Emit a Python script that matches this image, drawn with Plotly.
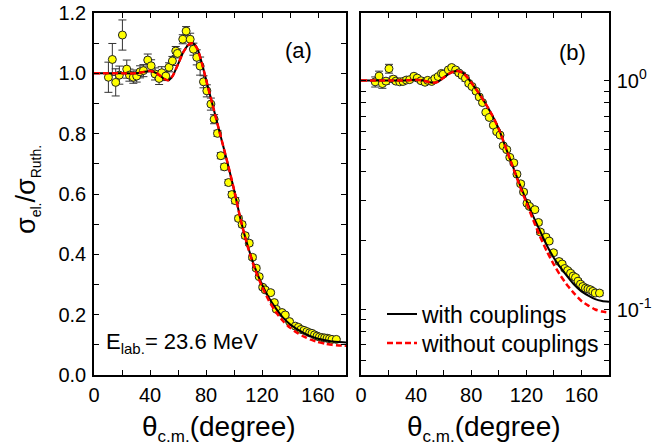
import plotly.graph_objects as go

# ---- data ----
theta_data = [10.3, 13.1, 15.5, 18.1, 20.3, 23.4, 25.3, 28.1, 30.5, 32.9, 35.3, 38.4, 40.8, 43.6,
              46.5, 48.4, 51.3, 53.6, 56.0, 58.4, 59.6, 63.4, 65.8, 68.7, 71.0, 73.4, 75.8, 78.2,
              80.6, 83.5, 85.8, 88.2, 90.6, 93.1, 96.1, 98.5, 100.9, 103.2, 105.8, 108.0, 110.9,
              113.2, 115.9, 118.0, 120.5, 122.3, 126.2, 128.8, 130.2, 134.3, 136.6, 139.7, 143.8,
              146.0, 147.9, 150.0, 152.1, 154.0, 155.7, 157.5, 159.3, 161.0, 162.9, 164.7, 166.5,
              168.2, 170.0, 173.1]
ratio_data = [0.987, 1.046, 0.970, 0.994, 1.127, 1.014, 0.994, 0.987, 0.991, 1.005, 1.009, 1.044,
              1.025, 0.998, 0.983, 1.002, 0.991, 1.020, 1.041, 1.074, 1.066, 1.113, 1.140, 1.113,
              1.080, 1.053, 1.024, 0.972, 0.942, 0.898, 0.848, 0.801, 0.727, 0.690, 0.638, 0.598,
              0.578, 0.519, 0.499, 0.462, 0.437, 0.390, 0.354, 0.326, 0.291, 0.282, 0.273, 0.240,
              0.218, 0.207, 0.199, 0.177, 0.162, 0.158, 0.151, 0.148, 0.144, 0.140, 0.138, 0.133,
              0.129, 0.126, 0.124, 0.123, 0.122, 0.120, 0.118, 0.118]
err_data = [0.05, 0.053, 0.045, 0.03, 0.05, 0.03, 0.02, 0.02, 0.02, 0.02, 0.02, 0.02, 0.02, 0.02,
            0.02, 0.02, 0.015, 0.015, 0.015, 0.015, 0.015, 0.015, 0.015, 0.02, 0.02, 0.025, 0.03,
            0.02, 0.02, 0.02, 0.015, 0.01, 0.01, 0.01, 0.01, 0.01, 0.01, 0.008, 0.008, 0.008,
            0.008, 0.007, 0.007, 0.006, 0.006, 0.006, 0.005, 0.005, 0.005, 0.004, 0.004, 0.004,
            0.004, 0.003, 0.003, 0.003, 0.003, 0.003, 0.003, 0.003, 0.003, 0.003, 0.003, 0.003,
            0.003, 0.003, 0.003, 0.003]

theta_curve = [0, 10, 20, 30, 35, 40, 45, 50, 53, 56, 60, 64, 68, 71, 74, 77, 80, 85, 90, 95,
               100, 105, 110, 115, 120, 125, 130, 135, 140, 145, 150, 155, 160, 165, 170, 175, 180]
with_coupl = [1.0, 1.0, 1.0, 1.0, 1.004, 1.008, 1.0, 0.982, 0.977, 0.99, 1.03, 1.072, 1.097,
              1.099, 1.08, 1.035, 0.98, 0.89, 0.80, 0.71, 0.615, 0.51, 0.425, 0.355, 0.30, 0.255,
              0.22, 0.19, 0.168, 0.152, 0.139, 0.128, 0.12, 0.115, 0.111, 0.109, 0.108]
without_coupl = [1.0, 1.0, 1.0, 1.0, 1.004, 1.008, 1.0, 0.982, 0.977, 0.99, 1.03, 1.072, 1.097,
                 1.099, 1.08, 1.035, 0.98, 0.89, 0.80, 0.71, 0.615, 0.51, 0.422, 0.350, 0.293,
                 0.246, 0.208, 0.179, 0.157, 0.140, 0.127, 0.117, 0.109, 0.104, 0.100, 0.098, 0.097]

x_tickvals = [0, 20, 40, 60, 80, 100, 120, 140, 160, 180]
x_ticktext = ["0", "", "40", "", "80", "", "120", "", "160", ""]
ya_tickvals = [0, 0.1, 0.2, 0.3, 0.4, 0.5, 0.6, 0.7, 0.8, 0.9, 1.0, 1.1, 1.2]
ya_ticktext = ["0.0", "", "0.2", "", "0.4", "", "0.6", "", "0.8", "", "1.0", "", "1.2"]
yb_tickvals = [0.06, 0.07, 0.08, 0.09, 0.1, 0.2, 0.3, 0.4, 0.5, 0.6, 0.7, 0.8, 0.9, 1.0]
yb_ticktext = ["", "", "", "", "10<sup>-1</sup>", "", "", "", "", "", "", "", "", "10<sup>0</sup>"]

FONT = "Liberation Sans, Arial, sans-serif"
W, H = 653, 446
ML, MR, MT, MB = 94, 44, 13, 71
PW, PH = W - ML - MR, H - MT - MB


def px_x(x):
    return (x - ML) / PW


def px_y(y):
    return (H - MB - y) / PH


fig = go.Figure()

for xa, ya in (("x", "y"), ("x2", "y2")):
    fig.add_trace(go.Scatter(
        x=theta_data, y=ratio_data, mode="markers", xaxis=xa, yaxis=ya, showlegend=False,
        marker=dict(color="#ffff00", size=8, line=dict(color="#222222", width=1)),
        error_y=dict(type="data", array=err_data, color="#333333", thickness=1, width=4),
    ))
    fig.add_trace(go.Scatter(
        x=theta_curve, y=with_coupl, mode="lines", xaxis=xa, yaxis=ya,
        name="with couplings", showlegend=(xa == "x2"), legend="legend",
        line=dict(color="black", width=2, shape="spline", smoothing=0.6),
    ))
    fig.add_trace(go.Scatter(
        x=theta_curve, y=without_coupl, mode="lines", xaxis=xa, yaxis=ya,
        name="without couplings", showlegend=(xa == "x2"), legend="legend2",
        line=dict(color="#ff0000", width=2.5, dash="6px,3px", shape="spline", smoothing=0.6),
    ))

axis_common = dict(showline=True, linecolor="black", linewidth=1.5, mirror="ticks",
                   ticks="inside", ticklen=5, tickwidth=1.2, tickcolor="black",
                   showgrid=False, zeroline=False, automargin=False,
                   tickfont=dict(family=FONT, size=20, color="black"))

legend_common = dict(xanchor="left", yanchor="middle", bgcolor="rgba(0,0,0,0)",
                     font=dict(family=FONT, size=23, color="black"))

xtitle = "θ<sub><span style='font-size:17px'>c.m.</span></sub>(degree)"
ytitle = ("σ<sub><span style='font-size:14px'>el.</span></sub>/"
          "σ<sub><span style='font-size:14px'>Ruth.</span></sub>")

fig.update_layout(
    width=W, height=H,
    margin=dict(l=ML, r=MR, t=MT, b=MB, autoexpand=False),
    paper_bgcolor="white", plot_bgcolor="white",
    font=dict(family=FONT, color="black"),
    xaxis=dict(domain=[0, px_x(346)], range=[0, 180], tickvals=x_tickvals, ticktext=x_ticktext,
               ticklabelstandoff=1, **axis_common),
    yaxis=dict(domain=[0, 1], range=[0, 1.2], tickvals=ya_tickvals, ticktext=ya_ticktext,
               ticklabelstandoff=2, **axis_common),
    xaxis2=dict(domain=[px_x(361), 1], range=[0, 180], tickvals=x_tickvals, ticktext=x_ticktext,
                anchor="y2", ticklabelstandoff=1, **axis_common),
    yaxis2=dict(domain=[0, 1], type="log", range=[-1.286, 0.295], tickvals=yb_tickvals,
                ticktext=yb_ticktext, anchor="x2", side="right", ticklabelstandoff=2,
                **axis_common),
    legend=dict(x=px_x(382), y=px_y(314), **legend_common),
    legend2=dict(x=px_x(382), y=px_y(343), **legend_common),
    annotations=[
        dict(text=ytitle, textangle=-90, xref="paper", yref="paper",
             x=px_x(27), y=px_y(190), xanchor="center", yanchor="middle", showarrow=False,
             font=dict(family=FONT, size=27)),
        dict(text=xtitle, xref="paper", yref="paper",
             x=px_x(219), y=px_y(428), xanchor="center", yanchor="middle", showarrow=False,
             font=dict(family=FONT, size=28)),
        dict(text=xtitle, xref="paper", yref="paper",
             x=px_x(484), y=px_y(428), xanchor="center", yanchor="middle", showarrow=False,
             font=dict(family=FONT, size=28)),
        dict(text="(a)", xref="paper", yref="paper", x=px_x(298), y=px_y(51),
             xanchor="center", yanchor="middle", showarrow=False, font=dict(family=FONT, size=22)),
        dict(text="(b)", xref="paper", yref="paper", x=px_x(572), y=px_y(52),
             xanchor="center", yanchor="middle", showarrow=False, font=dict(family=FONT, size=22)),
        dict(text="E<sub><span style='font-size:15px'>lab.</span></sub>= 23.6 MeV",
             xref="paper", yref="paper", x=px_x(104),
             y=px_y(343), xanchor="left", yanchor="middle", showarrow=False,
             font=dict(family=FONT, size=22)),
    ],
)

fig.write_html("out.html", config={"displayModeBar": False},
               post_script="document.body.style.margin='0px';document.body.style.padding='0px';")
